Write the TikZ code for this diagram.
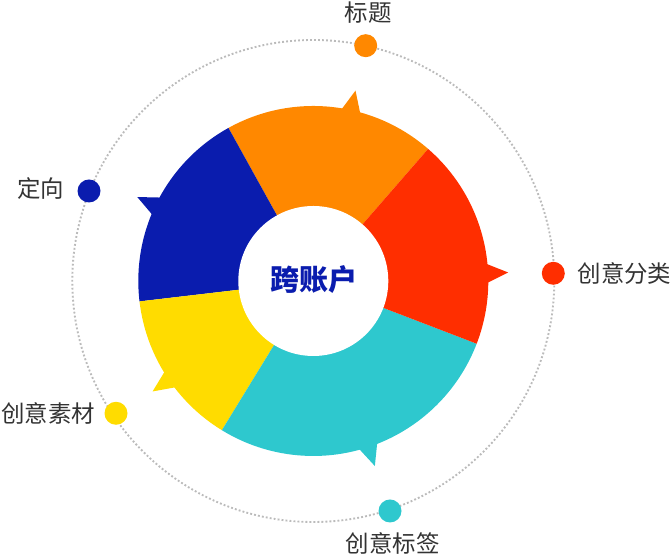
\documentclass[tikz,border=0pt]{standalone}
\usepackage{fontspec}
\newfontfamily\cjk{Noto Sans CJK SC}
\definecolor{cOrange}{HTML}{FF8800}
\definecolor{cRed}{HTML}{FF2E00}
\definecolor{cBlue}{HTML}{0A1CAE}
\definecolor{cCyan}{HTML}{2EC8CE}
\definecolor{cYellow}{HTML}{FFDC00}
\definecolor{cText}{HTML}{333333}
\definecolor{cDots}{HTML}{BBBBBB}
\tikzset{
  lbl/.style={font=\cjk\fontsize{17.6}{20}\selectfont, text=cText, inner sep=0pt},
  dotnode/.style={circle, minimum size=17.25pt, inner sep=0pt},
  dotring/.style={draw=cDots, line width=1.4pt, dash pattern=on 1.4pt off 1.6pt},
}
\newcommand{\seg}[3]{%
  \fill[#3] (0,0) -- (#1:131.25pt) arc[start angle=#1, end angle=#2, radius=131.25pt] -- cycle;}
\newcommand{\tab}[2]{%
  \fill[#2] (#1-3.5:129pt) -- (#1:146.25pt) -- (#1+3.5:129pt) -- cycle;}
\begin{document}
\begin{tikzpicture}[x=0.75pt,y=0.75pt]
\useasboundingbox (0,0) rectangle (672,555);
\coordinate (O) at (313.3,274);
\draw[dotring] (O) circle[radius=180.75pt];
\begin{scope}[shift={(313.3,274)}]
  \seg{49}{119}{cOrange}
  \seg{119}{186.7}{cBlue}
  \seg{186.7}{238.5}{cYellow}
  \seg{238.5}{339}{cCyan}
  \seg{339}{409}{cRed}
  \tab{77.5}{cOrange}
  \tab{154.5}{cBlue}
  \tab{214.5}{cYellow}
  \tab{288.4}{cCyan}
  \tab{2.5}{cRed}
  \fill[white] (0,0) circle[radius=56.25pt];
\end{scope}
\node[font=\cjk\bfseries\fontsize{21.75}{24}\selectfont, text=cBlue, inner sep=0pt] (c) at (313.7,275) {跨账户};
\node[dotnode, fill=cOrange] (d1) at (365.7,509.3) {};
\node[dotnode, fill=cBlue] (d2) at (89,364) {};
\node[dotnode, fill=cYellow] (d3) at (116,141.7) {};
\node[dotnode, fill=cCyan] (d4) at (390,44) {};
\node[dotnode, fill=cRed] (d5) at (553.3,281.7) {};
\node[lbl] (t1) at (368.3,542.8) {标题};
\node[lbl] (t2) at (40.8,366.7) {定向};
\node[lbl] (t3) at (48.3,141.7) {创意素材};
\node[lbl] (t4) at (392.7,11.3) {创意标签};
\node[lbl] (t5) at (624.5,281.7) {创意分类};
\end{tikzpicture}
\end{document}
